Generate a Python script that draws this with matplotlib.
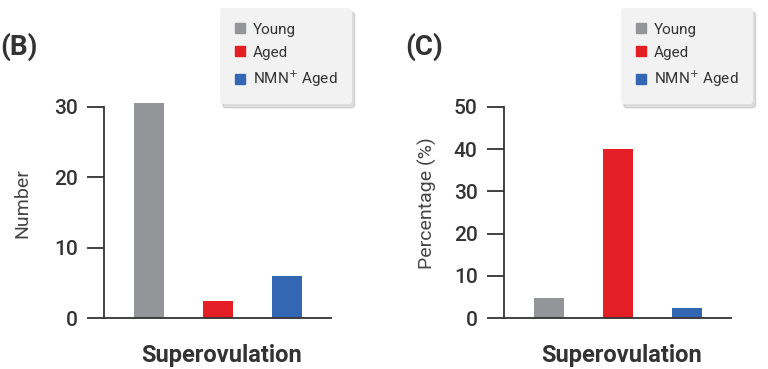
import matplotlib
matplotlib.use('Agg')
import matplotlib.pyplot as plt
from matplotlib.lines import Line2D

plt.rcParams['font.family'] = ['Roboto', 'DejaVu Sans']

# data
groups = ['Young', 'Aged', 'NMN$^{+}$ Aged']
colors = ['#939598', '#e31e25', '#3467b3']
number_vals = [30.6, 2.4, 6.0]      # panel B
percent_vals = [4.8, 40.0, 2.3]     # panel C
number_ticks = [0, 10, 20, 30]
percent_ticks = [0, 10, 20, 30, 40, 50]

txt = '#333333'

fig = plt.figure(figsize=(7.68, 3.69), dpi=100)


def panel(left, vals, ticks, ylabel, ylab_x, tag, tag_x, leg_x):
    ax = fig.add_axes([left / 768, 51 / 369, 227 / 768, 211 / 369])
    x = range(len(vals))
    ax.bar(x, vals, width=0.43, color=colors, clip_on=False, zorder=2)
    ax.set_xlim(-0.65, 2.64)
    ax.set_ylim(0, ticks[-1])
    ax.set_yticks(ticks)
    ax.set_xticks([])
    for s in ['top', 'right']:
        ax.spines[s].set_visible(False)
    for s in ['left', 'bottom']:
        ax.spines[s].set_color(txt)
        ax.spines[s].set_linewidth(1.3)
    ax.tick_params(axis='y', length=12, width=1.3, color=txt, pad=7,
                   labelsize=15, labelcolor=txt)
    for lab in ax.get_yticklabels():
        lab.set_fontweight(500)
    ax.set_ylabel(ylabel, fontsize=14, color='#444444')
    ax.yaxis.set_label_coords(ylab_x, 0.543)
    ax.set_xlabel('Superovulation', fontsize=17, fontweight='bold', color=txt)
    ax.xaxis.set_label_coords(0.518, -0.125)
    fig.text(tag_x / 768, 1 - 47 / 369, tag, fontsize=20, fontweight='bold',
             color=txt, va='center', ha='left')
    handles = [Line2D([], [], marker='s', ls='', color=c, markersize=6.5) for c in colors]
    leg = ax.legend(handles, groups, loc='upper left',
                    bbox_to_anchor=(leg_x / 768, 1 - 8 / 369),
                    bbox_transform=fig.transFigure, fontsize=11,
                    handlelength=0.7, handletextpad=0.5, labelspacing=0.6,
                    borderpad=0.95, borderaxespad=0, frameon=True, fancybox=True,
                    shadow={'color': '#bbbbbb', 'alpha': 0.5, 'ox': 2, 'oy': -3})
    leg.get_frame().set_facecolor('#f2f2f2')
    leg.get_frame().set_edgecolor('none')
    leg.get_frame().set_alpha(1)
    for t in leg.get_texts():
        t.set_color(txt)
    return ax


panel(104, number_vals, number_ticks, 'Number', -0.32, '(B)', 0, 220)
panel(504, percent_vals, percent_ticks, 'Percentage (%)', -0.295, '(C)', 405, 621)

fig.savefig('out.png', dpi=100, facecolor='white')
